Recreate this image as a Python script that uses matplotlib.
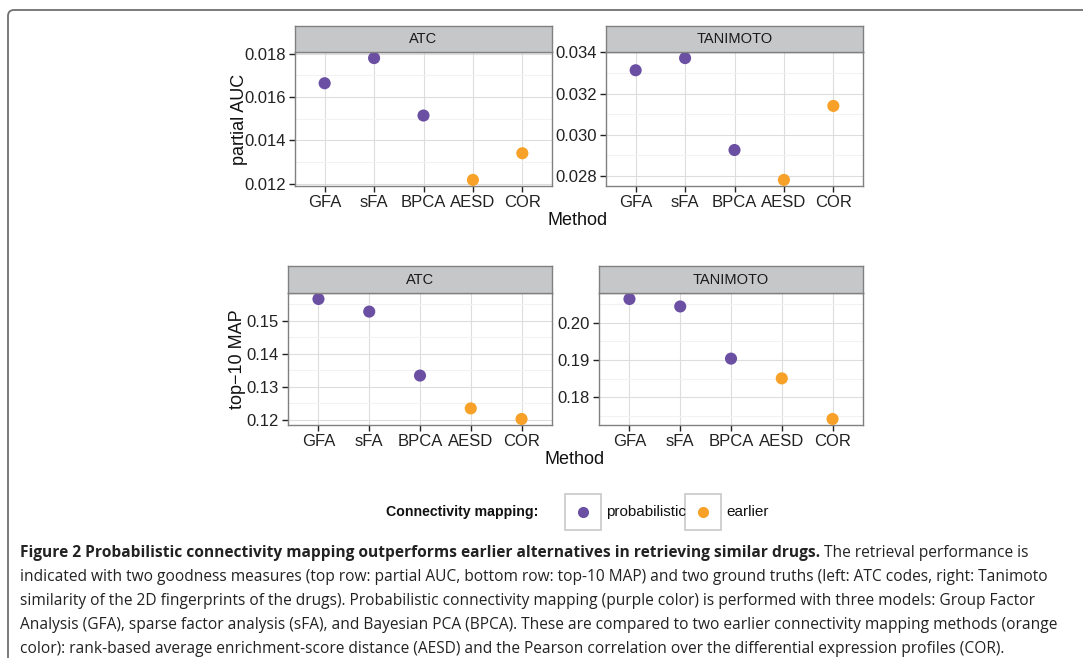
import numpy as np
import matplotlib
matplotlib.use('Agg')
import matplotlib.pyplot as plt
from matplotlib.ticker import MultipleLocator
from matplotlib.patches import FancyBboxPatch, Rectangle
from matplotlib.lines import Line2D

# data
methods = ['GFA', 'sFA', 'BPCA', 'AESD', 'COR']
group = ['probabilistic', 'probabilistic', 'probabilistic', 'earlier', 'earlier']

auc_atc = [0.01664, 0.01780, 0.01515, 0.01218, 0.01341]
auc_tan = [0.03313, 0.03372, 0.02926, 0.02781, 0.03140]
map_atc = [0.1565, 0.1527, 0.1334, 0.1235, 0.1203]
map_tan = [0.2064, 0.2044, 0.1904, 0.1851, 0.1742]

colors = {'probabilistic': '#6a4fa3', 'earlier': '#f7a128'}

W, H = 1083, 658
fig = plt.figure(figsize=(W / 100, H / 100), dpi=100)
plt.rcParams['font.family'] = 'Liberation Sans'


def box(x0, y0, x1, y1):
    # pixel box (top-left origin) -> figure fraction
    return [x0 / W, 1 - y1 / H, (x1 - x0) / W, (y1 - y0) / H]


def panel(x0, x1, ytop, ystrip, ybot, vals, title, major, minor):
    ax = fig.add_axes(box(x0, ystrip, x1, ybot))
    x = np.arange(len(methods))
    c = [colors[g] for g in group]
    ax.scatter(x, vals, s=76, c=c, linewidths=0, zorder=3)
    lo, hi = min(vals), max(vals)
    r = hi - lo
    ax.set_ylim(lo - 0.05 * r, hi + 0.05 * r)
    ax.set_xlim(-0.6, len(methods) - 0.4)
    ax.set_xticks(x)
    ax.set_xticklabels(methods)
    ax.yaxis.set_major_locator(MultipleLocator(major))
    ax.yaxis.set_minor_locator(MultipleLocator(minor))
    ax.grid(True, which='major', color='#dddddd', lw=0.8)
    ax.grid(True, which='minor', axis='y', color='#f2f2f2', lw=0.8)
    ax.set_axisbelow(True)
    ax.tick_params(which='major', length=4.5, width=1.0, color='#222222',
                   labelsize=12, labelcolor='#222222', pad=2)
    ax.tick_params(which='minor', length=0)
    for s in ax.spines.values():
        s.set_color('#808080')
        s.set_linewidth(1.0)
    # strip
    st = fig.add_axes(box(x0, ytop, x1, ystrip))
    st.set_facecolor('#c6c7c9')
    st.set_xticks([])
    st.set_yticks([])
    for s in st.spines.values():
        s.set_color('#808080')
        s.set_linewidth(1.0)
    st.text(0.5, 0.5, title, ha='center', va='center', fontsize=10.5,
            color='#1a1a1a', transform=st.transAxes)
    return ax


panel(295, 552, 26, 52, 186, auc_atc, 'ATC', 0.002, 0.001)
panel(606, 863, 26, 52, 186, auc_tan, 'TANIMOTO', 0.002, 0.001)
panel(288, 552, 266, 293, 425, map_atc, 'ATC', 0.01, 0.005)
panel(599, 863, 266, 293, 425, map_tan, 'TANIMOTO', 0.01, 0.005)

# axis titles
fig.text(240 / W, 1 - 119 / H, 'partial AUC', rotation=90, ha='center',
         va='center', fontsize=13, color='#111111')
fig.text(578 / W, 1 - 221 / H, 'Method', ha='center', va='center',
         fontsize=13, color='#111111')
fig.text(238 / W, 1 - 359 / H, 'top\u221210 MAP', rotation=90, ha='center',
         va='center', fontsize=13, color='#111111')
fig.text(575 / W, 1 - 460 / H, 'Method', ha='center', va='center',
         fontsize=13, color='#111111')

# legend
ly = 512
fig.text(386 / W, 1 - ly / H, 'Connectivity mapping:', ha='left', va='center',
         fontsize=10.2, fontweight='bold', color='#111111')
for x0, g in [(565, 'probabilistic'), (685, 'earlier')]:
    fig.add_artist(Rectangle((x0 / W, 1 - 530 / H), 36 / W, 36 / H,
                             transform=fig.transFigure, facecolor='white',
                             edgecolor='#c8c8c8', lw=1.2))
    fig.add_artist(Line2D([(x0 + 18) / W], [1 - ly / H], marker='o',
                          markersize=8, color=colors[g], mew=0,
                          transform=fig.transFigure))
    fig.text((x0 + 41) / W, 1 - ly / H, g, ha='left', va='center',
             fontsize=11, color='#111111')

# frame around the figure
fig.add_artist(FancyBboxPatch((8, -30), 1120, 678,
                              boxstyle='round,pad=0,rounding_size=6',
                              transform=None, facecolor='none',
                              edgecolor='#707070', lw=1.3))

# caption
cap = fig.add_axes([0, 0, 1, 1])
cap.axis('off')
cap.set_zorder(-1)
lines = [
    'indicated with two goodness measures (top row: partial AUC, bottom row: top-10 MAP) '
    'and two ground truths (left: ATC codes, right: Tanimoto',
    'similarity of the 2D fingerprints of the drugs). Probabilistic connectivity mapping '
    '(purple color) is performed with three models: Group Factor',
    'Analysis (GFA), sparse factor analysis (sFA), and Bayesian PCA (BPCA). These are '
    'compared to two earlier connectivity mapping methods (orange',
    'color): rank-based average enrichment-score distance (AESD) and the Pearson '
    'correlation over the differential expression profiles (COR).',
]
cfont = dict(family='Open Sans', color='#222222')

# size the caption font so the second line spans the same width as in the figure
probe = cap.text(0, 0, lines[0], fontsize=12, **cfont)
wpx = probe.get_window_extent(renderer=fig.canvas.get_renderer()).width
probe.remove()
csize = 12 * 1021 / wpx

bold = cap.text(20 / W, 1 - 553 / H, 'Figure 2 Probabilistic connectivity mapping '
                'outperforms earlier alternatives in retrieving similar drugs.',
                ha='left', va='center', fontweight='bold', fontsize=csize, **cfont)
cap.annotate(' The retrieval performance is', xy=(1, 0), xycoords=bold,
             ha='left', va='bottom', fontsize=csize, **cfont)
for i, t in enumerate(lines):
    cap.text(20 / W, 1 - (577 + 24 * i) / H, t, ha='left', va='center',
             fontsize=csize, **cfont)

fig.savefig('out.png', dpi=100)
